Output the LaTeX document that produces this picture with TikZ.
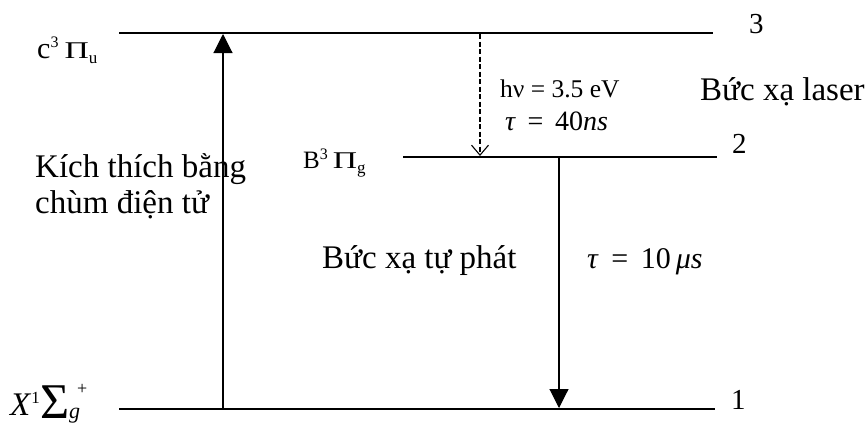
\documentclass[tikz,border=0pt]{standalone}
\usepackage{fontspec}
\setmainfont{Liberation Serif}
\usetikzlibrary{arrows.meta}
\newcommand{\myfs}[1]{\fontsize{#1}{#1}\selectfont}
\newcommand{\bigPi}{{\myfs{24}\scalebox{1.4}[1]{Π}}}
\begin{document}
\begin{tikzpicture}[x=1pt,y=-1pt,
  level/.style={line width=1.4pt},
  solidarrow/.style={line width=1.1pt,-{Triangle[length=19pt,width=19pt]}},
  dasharrow/.style={line width=1.1pt,dash pattern=on 5pt off 2.5pt,-{Straight Barb[length=10pt,width=17pt,line width=1.1pt]}},
  lbl/.style={font=\myfs{33},inner sep=0pt,anchor=base west},
  num/.style={font=\myfs{29},inner sep=0pt,anchor=base west}]
\useasboundingbox (0,0) rectangle (867,426);
% levels
\coordinate (L3a) at (119,33); \coordinate (L3b) at (713,33);
\coordinate (L2a) at (403,157); \coordinate (L2b) at (717,157);
\coordinate (L1a) at (119,409); \coordinate (L1b) at (715,409);
\draw[level] (L3a) -- (L3b);
\draw[level] (L2a) -- (L2b);
\draw[level] (L1a) -- (L1b);
% arrows
\coordinate (A1) at (223,409); \coordinate (A3) at (223,34);
\coordinate (D3) at (480,34); \coordinate (D2) at (480,156);
\coordinate (E2) at (559,158); \coordinate (E1) at (559,408);
\draw[solidarrow] (A1) -- (A3);
\draw[dasharrow] (D3) -- (D2);
\draw[solidarrow] (E2) -- (E1);
% level numbers
\node[num] (n3) at (749,33) {3};
\node[num] (n2) at (732,153) {2};
\node[num] (n1) at (731,409) {1};
% state labels
\node[lbl,font=\myfs{30}] (s3) at (37,58)
  {c\raisebox{11pt}{\myfs{16}3}\kern6pt\bigPi\raisebox{-5pt}{\myfs{17}u}};
\node[lbl,font=\myfs{25}] (s2) at (303,168)
  {B\raisebox{9pt}{\myfs{16}3}\kern5pt\bigPi\raisebox{-5pt}{\myfs{17}g}};
\node[lbl,font=\myfs{33}] (s1) at (10,415)
  {\textit{X}\raisebox{12pt}{\myfs{17}1}\kern1pt\raisebox{-3pt}{\myfs{50}Σ}\kern-1pt\raisebox{-3pt}{\myfs{22}\textit{g}}\kern-3pt\raisebox{21pt}{\myfs{18}+}};
% other texts
\node[lbl,font=\myfs{25.5}] (hv) at (500,97) {hν = 3.5 eV};
\node[lbl,font=\myfs{28}] (t40) at (505,130) {\textit{τ}\, = \,40\textit{ns}};
\node[lbl] (laser) at (700,100) {Bức xạ laser};
\node[lbl] (kich) at (35,177) {Kích thích bằng};
\node[lbl] (chum) at (35,213) {chùm điện tử};
\node[lbl] (tuphat) at (322,268) {Bức xạ tự phát};
\node[lbl,font=\myfs{30}] (t10) at (587,268) {\textit{τ}\, = \,10\,\textit{μs}};
\end{tikzpicture}
\end{document}
